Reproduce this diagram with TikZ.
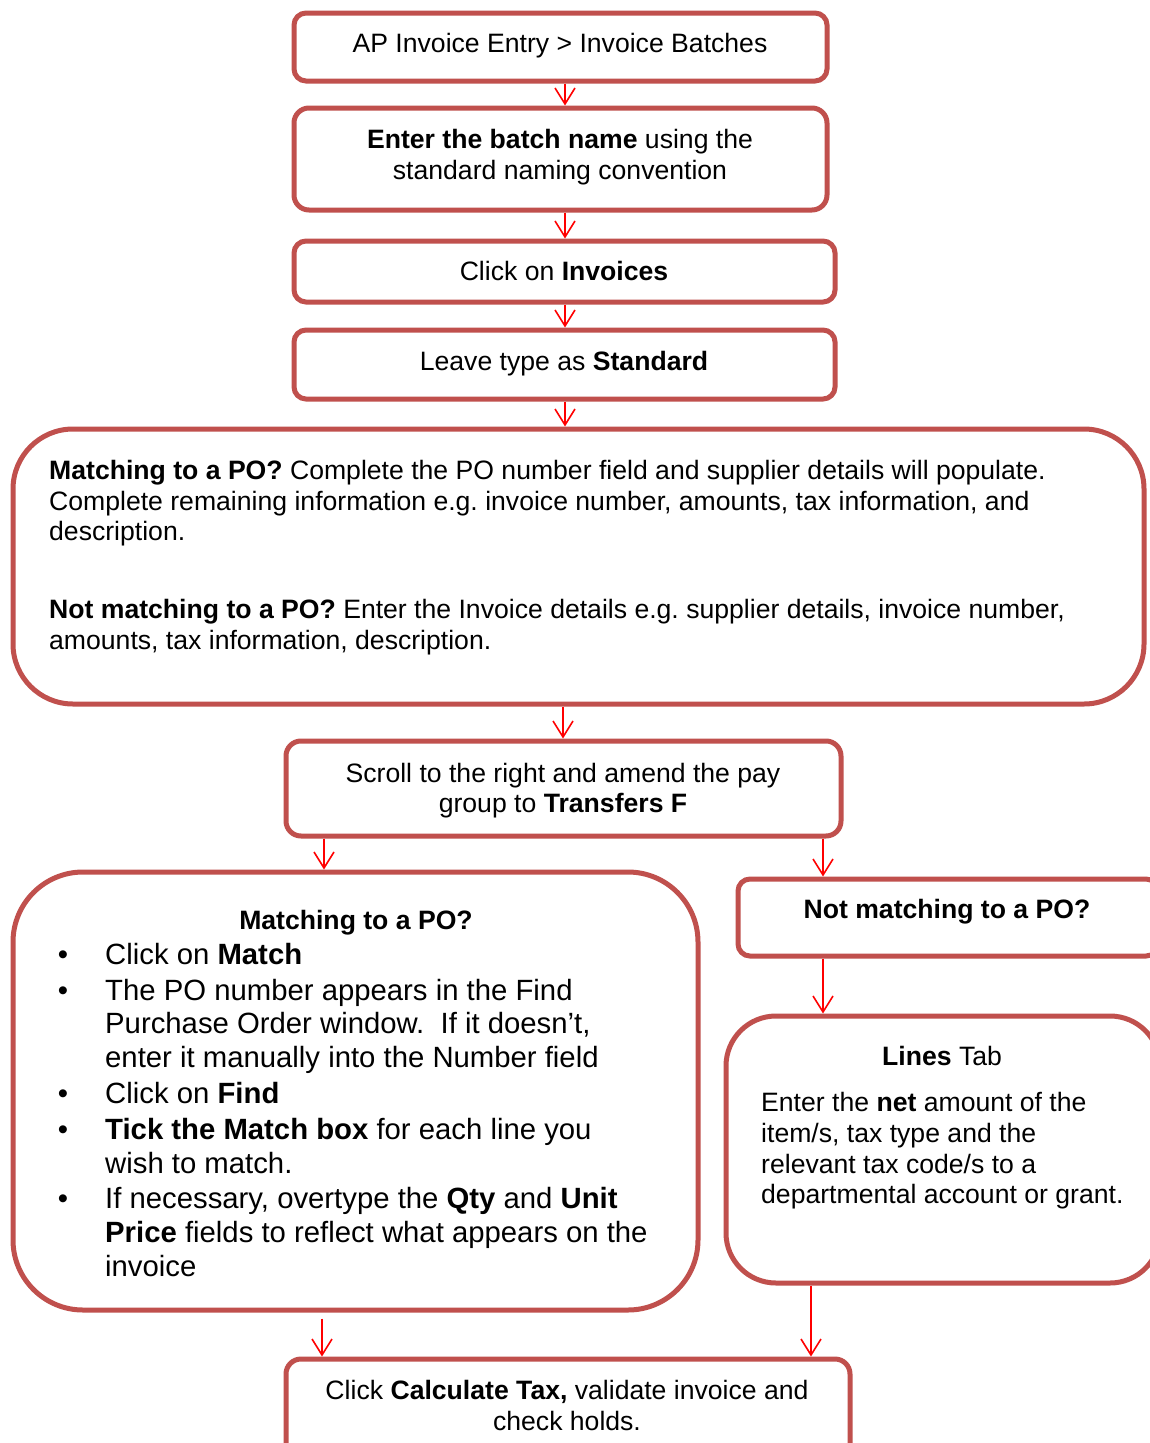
\documentclass[tikz,border=0pt]{standalone}
\usepackage{fontspec}
\setmainfont{Liberation Sans}
\usetikzlibrary{arrows.meta}
\definecolor{boxred}{RGB}{192,80,77}
\frenchspacing
\begin{document}
\frenchspacing
\begin{tikzpicture}[x=1pt,y=-1pt,
  box/.style={draw=boxred, line width=5pt, fill=white, inner sep=0pt},
  txt/.style={font=\fontsize{26.6}{31}\selectfont, inner sep=0pt, anchor=base},
  txtl/.style={txt, anchor=base west},
  btxt/.style={font=\fontsize{29.3}{34}\selectfont, inner sep=0pt, anchor=base west},
  bul/.style={font=\fontsize{29.3}{34}\selectfont, inner sep=0pt, anchor=base},
  arr/.style={draw=red, line width=1.6pt, -{Straight Barb[length=16pt,width=20pt,line width=1.6pt]}}
]
\useasboundingbox (0,0) rectangle (1150,1443);
\fill[white] (0,0) rectangle (1150,1443);
\clip (0,0) rectangle (1150,1443);

% boxes
\node[box, rounded corners=12pt, minimum width=533pt, minimum height=68pt] (b1) at (560.5,47) {};
\node[box, rounded corners=15pt, minimum width=533pt, minimum height=102pt] (b2) at (560.5,159) {};
\node[box, rounded corners=12pt, minimum width=541pt, minimum height=61pt] (b3) at (564.5,271.5) {};
\node[box, rounded corners=12pt, minimum width=541pt, minimum height=69pt] (b4) at (564.5,364.5) {};
\node[box, rounded corners=60pt, minimum width=1131pt, minimum height=275pt] (b5) at (578.5,566.5) {};
\node[box, rounded corners=15pt, minimum width=555pt, minimum height=95pt] (b6) at (563.5,788.5) {};
\node[box, rounded corners=70pt, minimum width=685pt, minimum height=438pt] (b7) at (355.5,1091) {};
\node[box, rounded corners=12pt, minimum width=420pt, minimum height=77pt] (b8) at (948,917.5) {};
\node[box, rounded corners=50pt, minimum width=434pt, minimum height=267pt] (b9) at (943,1149.5) {};
\node[box, rounded corners=15pt, minimum width=564pt, minimum height=121pt] (b10) at (568,1419.5) {};

% connectors
\draw[arr] ([xshift=4.5pt]b1.south) -- ([xshift=4.5pt]b2.north);
\draw[arr] ([xshift=4.5pt]b2.south) -- ([xshift=0.5pt]b3.north);
\draw[arr] ([xshift=0.5pt]b3.south) -- ([xshift=0.5pt]b4.north);
\draw[arr] ([xshift=0.5pt]b4.south) -- ([xshift=-13.5pt]b5.north);
\draw[arr] ([xshift=-15.5pt]b5.south) -- ([xshift=-0.5pt]b6.north);
\draw[arr] ([xshift=-239.5pt]b6.south) -- ([xshift=-31.5pt]b7.north);
\draw[arr] ([xshift=259.5pt]b6.south) -- ([xshift=-125pt]b8.north);
\draw[arr] ([xshift=-125pt]b8.south) -- ([xshift=-120pt]b9.north);
\draw[arr] ([xshift=-33.5pt,yshift=-6pt]b7.south) -- ([xshift=-246pt]b10.north);
\draw[arr] ([xshift=-132pt]b9.south) -- ([xshift=243pt]b10.north);

% texts
\node[txt] (t1) at (560,52) {AP Invoice Entry > Invoice Batches};

\node[txt] (t2a) at (560,148) {\textbf{Enter the batch name} using the};
\node[txt] (t2b) at (560,179) {standard naming convention};

\node[txt] (t3) at (564,280) {Click on \textbf{Invoices}};
\node[txt] (t4) at (564,370) {Leave type as \textbf{Standard}};

\node[txtl] (t5a) at (49,479) {\textbf{Matching to a PO?} Complete the PO number field and supplier details will populate.};
\node[txtl] (t5b) at (49,510) {Complete remaining information e.g. invoice number, amounts, tax information, and};
\node[txtl] (t5c) at (49,540) {description.};
\node[txtl] (t5d) at (49,618) {\textbf{Not matching to a PO?} Enter the Invoice details e.g. supplier details, invoice number,};
\node[txtl] (t5e) at (49,649) {amounts, tax information, description.};

\node[txt] (t6a) at (563,782) {Scroll to the right and amend the pay};
\node[txt] (t6b) at (563,812) {group to \textbf{Transfers F}};

\node[txt] (t7h) at (356,929) {\textbf{Matching to a PO?}};
\node[bul] (u1) at (63,964) {•};
\node[btxt] (t7a) at (105,964) {Click on \textbf{Match}};
\node[bul] (u2) at (63,1000) {•};
\node[btxt] (t7b) at (105,1000) {The PO number appears in the Find};
\node[btxt] (t7c) at (105,1033) {Purchase Order window.\ \ If it doesn’t,};
\node[btxt] (t7d) at (105,1067) {enter it manually into the Number field};
\node[bul] (u3) at (63,1103) {•};
\node[btxt] (t7e) at (105,1103) {Click on \textbf{Find}};
\node[bul] (u4) at (63,1139) {•};
\node[btxt] (t7f) at (105,1139) {\textbf{Tick the Match box} for each line you};
\node[btxt] (t7g) at (105,1173) {wish to match.};
\node[bul] (u5) at (63,1208) {•};
\node[btxt] (t7i) at (105,1208) {If necessary, overtype the \textbf{Qty} and \textbf{Unit}};
\node[btxt] (t7j) at (105,1242) {\textbf{Price} fields to reflect what appears on the};
\node[btxt] (t7k) at (105,1276) {invoice};

\node[txt] (t8) at (947,918) {\textbf{Not matching to a PO?}};

\node[txt] (t9h) at (942,1065) {\textbf{Lines} Tab};
\node[txtl] (t9a) at (761,1111) {Enter the \textbf{net} amount of the};
\node[txtl] (t9b) at (761,1142) {item/s, tax type and the};
\node[txtl] (t9c) at (761,1173) {relevant tax code/s to a};
\node[txtl] (t9d) at (761,1203) {departmental account or grant.};

\node[txt] (t10a) at (567,1399) {Click \textbf{Calculate Tax,} validate invoice and};
\node[txt] (t10b) at (567,1430) {check holds.};
\end{tikzpicture}
\end{document}
